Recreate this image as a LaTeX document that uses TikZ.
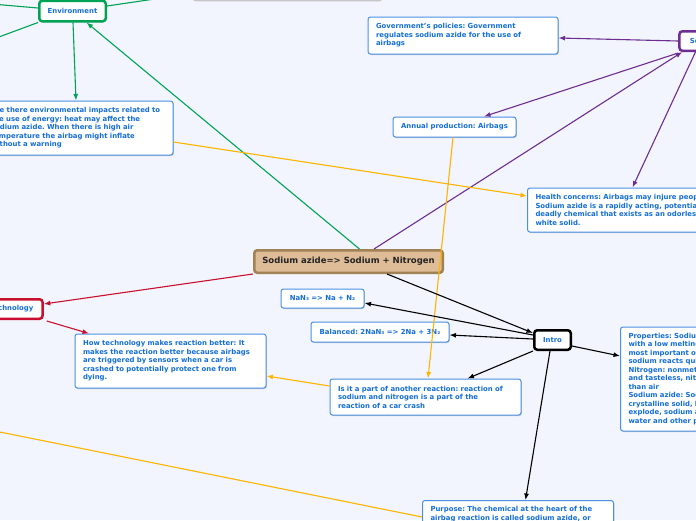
\documentclass[tikz,border=0pt]{standalone}
\usepackage{fontspec}
\setmainfont{DejaVu Sans}
\usetikzlibrary{arrows.meta,shadows}
\frenchspacing
\definecolor{bg}{RGB}{242,245,253}
\definecolor{boxblue}{RGB}{74,144,226}
\definecolor{txtblue}{RGB}{20,110,215}
\definecolor{cgreen}{RGB}{0,163,84}
\definecolor{cpurple}{RGB}{110,45,145}
\definecolor{corange}{RGB}{255,180,0}
\definecolor{cred}{RGB}{200,16,46}
\definecolor{ctan}{RGB}{222,188,152}
\definecolor{cbrown}{RGB}{160,130,85}
\definecolor{cdark}{RGB}{35,35,35}
\tikzset{
  shad/.style={drop shadow={shadow xshift=0.8pt,shadow yshift=-1pt,opacity=0.18,fill=black}},
  box/.style={draw=boxblue, line width=1pt, rounded corners=2.5pt, fill=white, text=txtblue,
    font=\fontsize{6.9}{8.5}\selectfont\bfseries\frenchspacing, inner xsep=8pt, inner ysep=3pt, align=left, shad},
  cbox/.style={box, align=center, inner xsep=0pt},
  hub/.style={line width=2.5pt, rounded corners=3pt, fill=white, text=txtblue, align=center,
    font=\fontsize{6.9}{8.5}\selectfont\bfseries, inner sep=0pt, shad},
  conn/.style={line width=1.1pt},
  arr/.style={-{Latex[length=6.5pt,width=5pt]}}
}
\begin{document}
\begin{tikzpicture}[x=1pt,y=-1pt]
\useasboundingbox (0,0) rectangle (696,520);
\clip (0,0) rectangle (696,520);
\fill[bg] (0,0) rectangle (696,520);

% partly visible box at the top
\node[draw=gray!45, line width=1.5pt, fill=bg, rounded corners=2pt, minimum width=188pt, minimum height=30pt] (topbox) at (287.5,-14.5) {};

% hubs
\node[hub, draw=cgreen, minimum width=66.5pt, minimum height=20.5pt] (env) at (72.5,11) {Environment};
\node[hub, draw=cpurple, anchor=west, minimum width=44pt, minimum height=19.5pt] (social) at (678.2,41) {Social};
\node[hub, draw=cred, anchor=east, minimum width=62pt, minimum height=19.5pt] (tech) at (43.8,309) {Technology};
\node[hub, draw=black, minimum width=36.5pt, minimum height=19.5pt] (intro) at (552.5,340) {Intro};
\node[hub, draw=cbrown, fill=ctan, text=cdark, font=\fontsize{8.5}{10}\selectfont\bfseries,
  minimum width=188.5pt, minimum height=22.5pt] (central) at (348.5,261.5) {Sodium azide=> Sodium + Nitrogen};

% text boxes
\node[box, text width=174pt, minimum height=54pt] (envimp) at (78,128)
 {Are there environmental impacts related to\\the use of energy: heat may affect the\\sodium azide. When there is high air\\temperature the airbag might inflate\\without a warning};
\node[box, text width=174pt, minimum height=37pt] (gov) at (463,35.5)
 {Government's policies: Government\\regulates sodium azide for the use of\\airbags};
\node[cbox, minimum width=123pt, minimum height=20pt] (annual) at (454.5,127) {Annual production: Airbags};
\node[box, anchor=west, text width=200pt, minimum height=44pt] (health) at (527,210)
 {Health concerns: Airbags may injure people\\Sodium azide is a rapidly acting, potentially\\deadly chemical that exists as an odorless\\white solid.};
\node[cbox, minimum width=83pt, minimum height=19pt] (nan3) at (322.5,298.5) {NaN₃ => Na + N₂};
\node[cbox, minimum width=138pt, minimum height=20pt] (bal) at (380,332) {Balanced: 2NaN₃ => 2Na + 3N₂};
\node[box, anchor=west, text width=220pt, minimum height=104pt] (prop) at (620,379)
 {Properties: Sodium is a soft, silvery metal\\with a low melting point, one of the\\most important of the alkali metals;\\sodium reacts quickly with water\\Nitrogen: nonmetal, colorless, odorless\\and tasteless, nitrogen is a bit lighter\\than air\\Sodium azide: Sodium azide is a colorless\\crystalline solid, heating it can make it\\explode, sodium azide dissolves in\\water and other polar solvents};
\node[box, text width=175pt, minimum height=36pt] (isit) at (425.5,397)
 {Is it a part of another reaction: reaction of\\sodium and nitrogen is a part of the\\reaction of a car crash};
\node[box, text width=175pt, minimum height=54pt] (howtech) at (170.5,361)
 {How technology makes reaction better: It\\makes the reaction better because airbags\\are triggered by sensors when a car is\\crashed to potentially protect one from\\dying.};
\node[box, anchor=north west, text width=175pt, inner ysep=6pt] (purpose) at (422,500)
 {Purpose: The chemical at the heart of the\\airbag reaction is called sodium azide, or};

% free ends off the canvas
\coordinate (offA) at (-20,3);
\coordinate (offB) at (-20,44);
\coordinate (offC) at (175,-4);
\coordinate (offD) at (-20,428);

% green
\draw[conn,cgreen] ([yshift=3pt]env.west) -- (offA);
\draw[conn,cgreen] (env.south west) -- (offB);
\draw[conn,cgreen] ([yshift=5pt]env.east) -- (offC);
\draw[conn,cgreen,arr] ([xshift=0.5pt]env.south) -- ([xshift=-2pt]envimp.north);
\draw[conn,cgreen,arr] ([xshift=11pt]central.north) -- ([xshift=14pt]env.south);

% purple
\draw[conn,cpurple,arr] (social.west) -- ([yshift=-2.5pt]gov.east);
\draw[conn,cpurple,arr] ([yshift=-1pt]social.south west) -- ([xshift=29.5pt]annual.north);
\draw[conn,cpurple,arr] ([xshift=25.5pt]central.north) -- ([xshift=4pt]social.south west);
\draw[conn,cpurple,arr] ([xshift=-6pt]social.south) -- ([xshift=-3pt]health.north);

% orange
\draw[conn,corange,arr] ([yshift=-14pt]envimp.east) -- ([yshift=14pt]health.west);
\draw[conn,corange,arr] ([xshift=-1.5pt]annual.south) -- ([xshift=2.5pt]isit.north);
\draw[conn,corange,arr] ([yshift=11pt]isit.west) -- ([yshift=-15pt]howtech.east);
\draw[conn,corange] (offD) -- ([yshift=-17pt]purpose.north west);

% red
\draw[conn,cred,arr] (central.south west) -- ([yshift=5pt]tech.east);
\draw[conn,cred,arr] ([xshift=3pt,yshift=-1pt]tech.south east) -- ([xshift=-81.5pt]howtech.north);

% black
\draw[conn,arr] ([xshift=38.5pt]central.south) -- ([yshift=7pt]intro.west);
\draw[conn,arr] ([yshift=5pt]intro.west) -- ([yshift=-4.5pt]nan3.east);
\draw[conn,arr] ([yshift=1pt]intro.west) -- ([yshift=-3pt]bal.east);
\draw[conn,arr] (intro.south west) -- ([xshift=42pt]isit.north);
\draw[conn,arr] ([yshift=-6pt]intro.east) -- ([yshift=23pt]prop.west);
\draw[conn,arr] ([xshift=-2.5pt]intro.south) -- ([xshift=7.5pt]purpose.north);
\end{tikzpicture}
\end{document}
